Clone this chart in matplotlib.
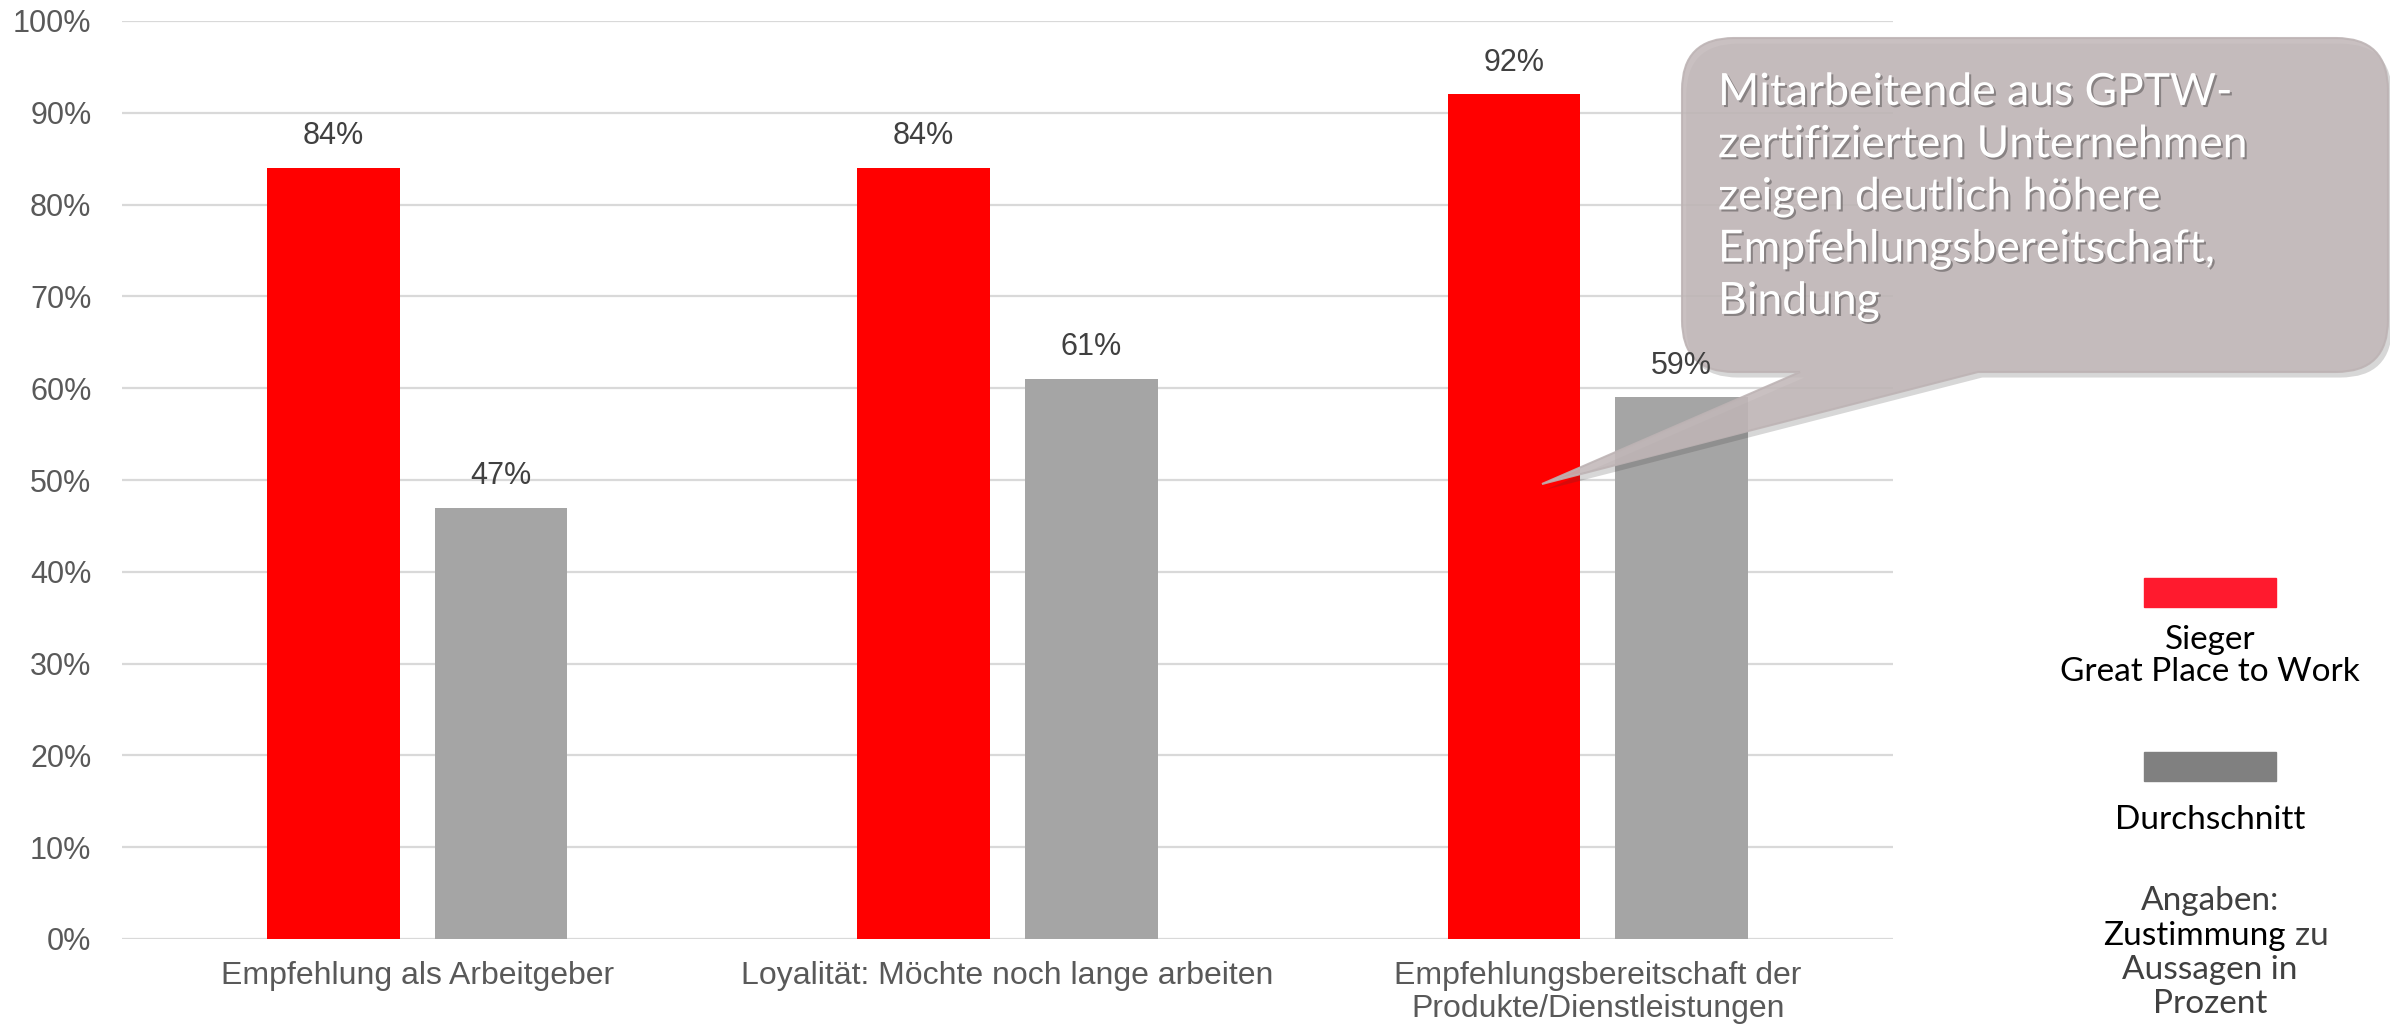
import numpy as np
import matplotlib
matplotlib.use("Agg")
import matplotlib.pyplot as plt
from matplotlib.path import Path
from matplotlib.patches import PathPatch, Rectangle
import matplotlib.patheffects as pe
import matplotlib.transforms as mtransforms

plt.rcParams['font.family'] = ['Liberation Sans', 'DejaVu Sans']

categories = ["Empfehlung als Arbeitgeber",
              "Loyalität: Möchte noch lange arbeiten",
              "Empfehlungsbereitschaft der\nProdukte/Dienstleistungen"]
sieger = [0.84, 0.84, 0.92]
durchschnitt = [0.47, 0.61, 0.59]
series_names = ["Sieger\nGreat Place to Work", "Durchschnitt"]
callout_text = ("Mitarbeitende aus GPTW-\nzertifizierten Unternehmen\n"
                "zeigen deutlich höhere\nEmpfehlungsbereitschaft,\nBindung")
note_lines = ["Angaben:", "Zustimmung", "zu", "Aussagen in", "Prozent"]

RED = "#FF0000"
GRAY = "#A5A5A5"
TXT = "#595959"
GEO = ['Lato', 'DejaVu Sans']

W, H = 2390, 1030
fig = plt.figure(figsize=(W / 100, H / 100), dpi=100)
ax = fig.add_axes([122 / W, 1 - 939 / H, (1893 - 122) / W, (939 - 21) / H])
# pixel coordinates measured from the top-left corner of the figure
px = mtransforms.Affine2D().scale(1 / W, -1 / H).translate(0, 1) + fig.transFigure

x = np.arange(len(categories))
bw = 0.225
off = 0.142
b1 = ax.bar(x - off, sieger, bw, color=RED, zorder=3)
b2 = ax.bar(x + off, durchschnitt, bw, color=GRAY, zorder=3)
for bars, vals in ((b1, sieger), (b2, durchschnitt)):
    lbls = ax.bar_label(bars, labels=[f"{v:.0%}" for v in vals], padding=12,
                        fontsize=22, color="#404040")
    for t in lbls:
        t.set_zorder(6)

ax.set_xlim(-0.5, len(categories) - 0.5)
ax.set_ylim(0, 1.0)
ax.set_yticks(np.arange(0, 1.01, 0.1))
ax.set_yticklabels([f"{int(round(t * 100))}%" for t in np.arange(0, 1.01, 0.1)])
ax.set_xticks(x)
ax.set_xticklabels(categories, linespacing=1.12, fontsize=23)
ax.tick_params(axis='y', length=0, labelsize=22, colors=TXT, pad=22)
ax.tick_params(axis='x', length=0, colors=TXT, pad=16)
ax.grid(axis='y', color="#D9D9D9", linewidth=1.6, zorder=0)
for s in ax.spines.values():
    s.set_visible(False)

# callout bubble with tail, drawn above the bars but below the value labels
x0, y0, x1, y1, r = 1682, 38, 2388, 372, 52
tail_l, tail_r, tip = 1800, 1978, (1542, 484)
verts = [(x0 + r, y0), (x1 - r, y0), (x1, y0), (x1, y0 + r),
         (x1, y1 - r), (x1, y1), (x1 - r, y1),
         (tail_r, y1), tip, (tail_l, y1),
         (x0 + r, y1), (x0, y1), (x0, y1 - r),
         (x0, y0 + r), (x0, y0), (x0 + r, y0), (x0 + r, y0)]
codes = [Path.MOVETO, Path.LINETO, Path.CURVE3, Path.CURVE3,
         Path.LINETO, Path.CURVE3, Path.CURVE3,
         Path.LINETO, Path.LINETO, Path.LINETO,
         Path.LINETO, Path.CURVE3, Path.CURVE3,
         Path.LINETO, Path.CURVE3, Path.CURVE3, Path.CLOSEPOLY]
bubble = PathPatch(Path(verts, codes), facecolor="#C2B8B9", edgecolor="#BDB3B4",
                   linewidth=1.5, alpha=0.88, transform=px, clip_on=False, zorder=4,
                   path_effects=[pe.SimplePatchShadow(offset=(3, -4), alpha=0.2),
                                 pe.Normal()])
ax.add_patch(bubble)
ax.text(1718, 72, callout_text, transform=px, fontsize=32, family=GEO,
        color="white", va='top', ha='left', linespacing=1.34,
        zorder=7, clip_on=False,
        path_effects=[pe.withSimplePatchShadow(offset=(1.5, -1.5),
                                               shadow_rgbFace='k', alpha=0.3)])

# legend
ov = fig.add_axes([0, 0, 1, 1], zorder=5)
ov.set_xlim(0, W)
ov.set_ylim(H, 0)
ov.axis('off')

lx = 2210
ov.add_patch(Rectangle((2144, 578), 132, 29, color="#FF1A2E"))
ov.text(lx, 656, series_names[0], fontsize=24, family=GEO,
        color="black", ha='center', va='center', linespacing=1.05)
ov.add_patch(Rectangle((2144, 752), 132, 29, color="#808080"))
ov.text(lx, 820, series_names[1], fontsize=24, family=GEO,
        color="black", ha='center', va='center')

ov.text(lx, 901, note_lines[0], fontsize=24, family=GEO, color="#404040",
        ha='center', va='center')
ov.text(2286, 936, note_lines[1], fontsize=24, family=GEO, color="black",
        ha='right', va='center')
ov.text(2295, 936, note_lines[2], fontsize=24, family=GEO, color="#404040",
        ha='left', va='center')
ov.text(lx, 970, note_lines[3], fontsize=24, family=GEO, color="#404040",
        ha='center', va='center')
ov.text(lx, 1004, note_lines[4], fontsize=24, family=GEO, color="#404040",
        ha='center', va='center')

fig.savefig("out.png", dpi=100)
